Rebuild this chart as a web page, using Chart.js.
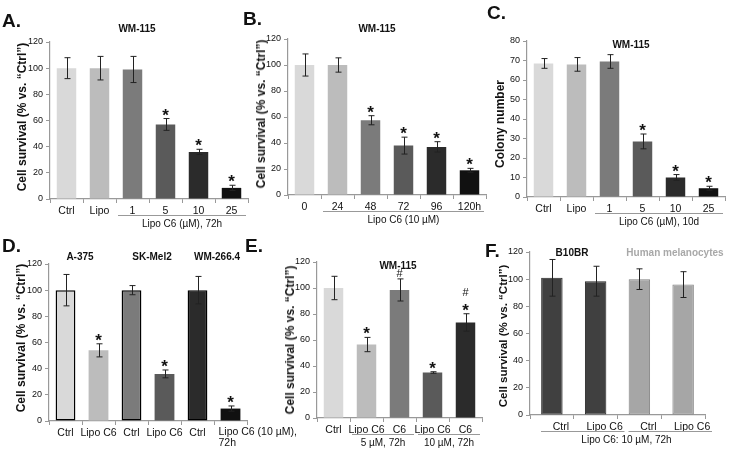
<!DOCTYPE html>
<html>
<head>
<meta charset="utf-8">
<script src="https://cdn.jsdelivr.net/npm/chart.js@4.4.1/dist/chart.umd.min.js"></script>
<style>
html, body { margin: 0; padding: 0; background: #fff; }
#fig { position: relative; width: 732px; height: 453px; overflow: hidden; font-family: "Liberation Sans", Arial, sans-serif; color: #111; }
#fig canvas { position: absolute; left: 0; top: 0; }
.letter { position: absolute; font-weight: bold; font-size: 19px; line-height: 19px; }
.t { position: absolute; white-space: nowrap; transform: translate(-50%, -50%); font-weight: bold; font-size: 10px; }
.yt { position: absolute; white-space: nowrap; font-weight: bold; font-size: 12px; transform: translate(-50%, -50%) rotate(-90deg); }
</style>
</head>
<body>
<div id="fig">
  <canvas id="pA" width="732" height="453"></canvas>
  <canvas id="pB" width="732" height="453"></canvas>
  <canvas id="pC" width="732" height="453"></canvas>
  <canvas id="pD" width="732" height="453"></canvas>
  <canvas id="pE" width="732" height="453"></canvas>
  <canvas id="pF" width="732" height="453"></canvas>

  <div class="letter" style="left:2px;top:11px">A.</div>
  <div class="letter" style="left:243px;top:9px">B.</div>
  <div class="letter" style="left:487px;top:3px">C.</div>
  <div class="letter" style="left:2px;top:236px">D.</div>
  <div class="letter" style="left:245px;top:236px">E.</div>
  <div class="letter" style="left:485px;top:241px">F.</div>

  <div class="t" style="left:137px;top:28px">WM-115</div>
  <div class="t" style="left:377px;top:28px">WM-115</div>
  <div class="t" style="left:631px;top:44px">WM-115</div>
  <div class="t" style="left:80px;top:256px">A-375</div>
  <div class="t" style="left:152px;top:256px">SK-Mel2</div>
  <div class="t" style="left:217px;top:256px">WM-266.4</div>
  <div class="t" style="left:398px;top:265px">WM-115</div>
  <div class="t" style="left:572px;top:252px">B10BR</div>
  <div class="t" style="left:675px;top:252px;color:#a8a8a8">Human melanocytes</div>

  <div class="yt" style="left:22px;top:117px">Cell survival (% vs. “Ctrl”)</div>
  <div class="yt" style="left:261px;top:114px">Cell survival (% vs. “Ctrl”)</div>
  <div class="yt" style="left:500px;top:124px">Colony number</div>
  <div class="yt" style="left:21px;top:338px">Cell survival (% vs. “Ctrl”)</div>
  <div class="yt" style="left:290px;top:340px">Cell survival (% vs. “Ctrl”)</div>
  <div class="yt" style="left:503px;top:336px;font-size:11.5px">Cell survival (% vs. “Ctrl”)</div>
</div>
<script>
// tick values
const ticksSurvival = [0, 20, 40, 60, 80, 100, 120];
const ticksColony = [0, 10, 20, 30, 40, 50, 60, 70, 80];

// A: dose response, 72h
const labelsA = ['Ctrl', 'Lipo', '1', '5', '10', '25'];
const survivalA = [100, 100, 99, 57, 36, 8.5];
const errA = [8, 9, 10, 4.5, 2, 2];
const starA = [false, false, false, true, true, true];

// B: time course, 10 uM
const labelsB = ['0', '24', '48', '72', '96', '120h'];
const survivalB = [100, 100, 57.5, 38, 37, 19];
const errB = [8.5, 5.5, 3.5, 6.5, 4, 1.5];
const starB = [false, false, true, true, true, true];

// C: colony formation, 10d
const labelsC = ['Ctrl', 'Lipo', '1', '5', '10', '25'];
const coloniesC = [68.5, 68, 69.5, 28.5, 10, 4.5];
const errC = [2.5, 3.5, 3.5, 3.8, 1.5, 1];
const starC = [false, false, false, true, true, true];

// D: other melanoma lines
const labelsD = ['Ctrl', 'Lipo C6', 'Ctrl', 'Lipo C6', 'Ctrl', ['Lipo C6 (10 µM),', '72h']];
const survivalD = [100, 54, 100, 36, 100, 9.5];
const errD = [12, 5, 3.5, 3, 10.5, 2];
const starD = [false, true, false, true, false, true];

// E: liposomal vs free C6
const labelsE = ['Ctrl', 'Lipo C6', 'C6', 'Lipo C6', 'C6'];
const survivalE = [100, 56.5, 98.5, 35, 73.5];
const errE = [9, 5.5, 8.5, 0.6, 6.7];
const starE = [false, true, false, true, true];
const hashE = [false, false, true, false, true];

// F: non-cancer cells
const labelsF = ['Ctrl', 'Lipo C6', 'Ctrl', 'Lipo C6'];
const survivalF = [101, 98.5, 100, 96];
const errF = [13.5, 11, 7.6, 9.5];

const AXIS = '#999';
const GREYS6 = ['#d9d9d9', '#bcbcbc', '#7b7b7b', '#5a5a5a', '#2b2b2b', '#111111'];

const panels = {
  pA: { labels: labelsA, values: survivalA, errors: errA, stars: starA, yTicks: ticksSurvival,
        area: [50, 248, 42, 199], colors: GREYS6, barPct: 0.59,
        groups: [{ from: 2, to: 5, text: 'Lipo C6 (µM), 72h', line: true }] },
  pB: { labels: labelsB, values: survivalB, errors: errB, stars: starB, yTicks: ticksSurvival,
        area: [288, 486, 39, 195], colors: GREYS6, barPct: 0.59,
        groups: [{ from: 1, to: 5, text: 'Lipo C6 (10 µM)', line: true }] },
  pC: { labels: labelsC, values: coloniesC, errors: errC, stars: starC, yTicks: ticksColony,
        area: [527, 725, 41, 197], colors: GREYS6, barPct: 0.59,
        groups: [{ from: 2, to: 5, text: 'Lipo C6 (µM), 10d', line: true }] },
  pD: { labels: labelsD, values: survivalD, errors: errD, stars: starD, yTicks: ticksSurvival,
        area: [49, 247, 264, 421], colors: ['#d9d9d9', '#bcbcbc', '#7b7b7b', '#5a5a5a', '#2b2b2b', '#111111'],
        borders: ['#000', 'rgba(0,0,0,0)', '#000', 'rgba(0,0,0,0)', '#000', 'rgba(0,0,0,0)'],
        borderWidth: [1.5, 0, 1.5, 0, 1.5, 0], barPct: 0.6, leftLabel: 5, groups: [] },
  pE: { labels: labelsE, values: survivalE, errors: errE, stars: starE, hashes: hashE, yTicks: ticksSurvival,
        area: [317, 482, 262, 418], colors: ['#d9d9d9', '#bcbcbc', '#7b7b7b', '#5a5a5a', '#2b2b2b'], barPct: 0.59,
        groups: [{ from: 1, to: 2, text: '5 µM, 72h', line: true }, { from: 3, to: 4, text: '10 µM, 72h', line: true }] },
  pF: { labels: labelsF, values: survivalF, errors: errF, yTicks: ticksSurvival,
        area: [530, 705, 252, 415], colors: ['#404040', '#404040', '#a6a6a6', '#a6a6a6'],
        borders: ['#262626', '#262626', '#808080', '#808080'], borderWidth: 1, barPct: 0.49, shift: 9,
        groups: [{ from: 0, to: 1, text: '', line: true }, { from: 2, to: 3, text: '', line: true },
                 { from: 0, to: 3, text: 'Lipo C6: 10 µM, 72h', line: false }] }
};

const extras = {
  id: 'extras',
  afterDraw(chart) {
    const o = panels[chart.canvas.id];
    const ctx = chart.ctx, xs = chart.scales.x, ys = chart.scales.y;
    const meta = chart.getDatasetMeta(0);
    const half = (xs.getPixelForValue(1) - xs.getPixelForValue(0)) / 2;
    const bottom = chart.chartArea.bottom;
    const shift = o.shift || 0;
    ctx.save();
    meta.data.forEach((bar, i) => {
      const v = o.values[i], e = o.errors[i];
      const cx = Math.round(bar.x) + 0.5;
      const top = ys.getPixelForValue(v + e), bot = ys.getPixelForValue(v - e);
      ctx.strokeStyle = '#222';
      ctx.lineWidth = 1;
      ctx.beginPath();
      ctx.moveTo(cx, top); ctx.lineTo(cx, bot);
      ctx.moveTo(cx - 3, top); ctx.lineTo(cx + 3, top);
      ctx.moveTo(cx - 3, bot); ctx.lineTo(cx + 3, bot);
      ctx.stroke();
      ctx.fillStyle = '#111';
      ctx.textAlign = 'center';
      ctx.textBaseline = 'alphabetic';
      let mark = top - 8;
      if (o.stars && o.stars[i]) {
        ctx.font = 'bold 17px "Liberation Sans", Arial, sans-serif';
        ctx.fillText('*', bar.x, mark + 10);
        mark -= 14;
      } else {
        mark += 2;
      }
      if (o.hashes && o.hashes[i]) {
        ctx.font = '11px "Liberation Sans", Arial, sans-serif';
        ctx.fillText('#', bar.x, mark + 4);
      }
    });
    // label drawn left-aligned below the last category of D
    if (o.leftLabel !== undefined) {
      const lines = o.labels[o.leftLabel];
      const lx = xs.getPixelForValue(o.leftLabel) - 12;
      ctx.font = '10.5px "Liberation Sans", Arial, sans-serif';
      ctx.fillStyle = '#111';
      ctx.textAlign = 'left';
      ctx.textBaseline = 'middle';
      lines.forEach((s, k) => ctx.fillText(s, lx, bottom + 11 + k * 11));
    }
    o.groups.forEach(g => {
      const x0 = xs.getPixelForValue(g.from) - half + 2 + shift;
      const x1 = xs.getPixelForValue(g.to) + half - 2 + shift;
      if (g.line) {
        ctx.strokeStyle = AXIS;
        ctx.lineWidth = 1;
        ctx.beginPath();
        ctx.moveTo(x0, bottom + 16.5); ctx.lineTo(x1, bottom + 16.5);
        ctx.stroke();
      }
      if (g.text) {
        ctx.font = '10px "Liberation Sans", Arial, sans-serif';
        ctx.fillStyle = '#111';
        ctx.textAlign = 'center';
        ctx.textBaseline = 'middle';
        ctx.fillText(g.text, (x0 + x1) / 2, bottom + 25.5);
      }
    });
    ctx.restore();
  }
};

Chart.defaults.font.family = '"Liberation Sans", Arial, sans-serif';

function makePanel(id) {
  const o = panels[id];
  const [l, r, t, b] = o.area;
  return new Chart(document.getElementById(id), {
    type: 'bar',
    data: {
      labels: o.labels,
      datasets: [{
        data: o.values,
        backgroundColor: o.colors,
        borderColor: o.borders || 'rgba(0,0,0,0)',
        borderWidth: o.borderWidth || 0,
        borderSkipped: false,
        barPercentage: o.barPct,
        categoryPercentage: 1
      }]
    },
    options: {
      responsive: false,
      animation: false,
      events: [],
      layout: { padding: { left: l - 30, right: 732 - r, top: t, bottom: 453 - b - 24 } },
      plugins: { legend: { display: false }, tooltip: { enabled: false } },
      scales: {
        x: {
          offset: true,
          afterFit: s => { s.height = 24; },
          grid: { offset: true, drawOnChartArea: false, tickLength: 4, color: AXIS },
          border: { color: AXIS, width: 1.2 },
          ticks: {
            font: { size: 10.5 }, color: '#111', padding: 2, maxRotation: 0, autoSkip: false,
            labelOffset: o.shift || 0,
            callback: (v, i) => (i === o.leftLabel ? '' : o.labels[i])
          }
        },
        y: {
          min: 0,
          max: o.yTicks[o.yTicks.length - 1],
          afterFit: s => { s.width = 30; },
          afterBuildTicks: s => { s.ticks = o.yTicks.map(v => ({ value: v })); },
          grid: { drawOnChartArea: false, tickLength: 4, color: AXIS },
          border: { color: AXIS, width: 1.2 },
          ticks: { font: { size: 9 }, color: '#111', padding: 3 }
        }
      }
    },
    plugins: [extras]
  });
}

Object.keys(panels).forEach(makePanel);
</script>
</body>
</html>
